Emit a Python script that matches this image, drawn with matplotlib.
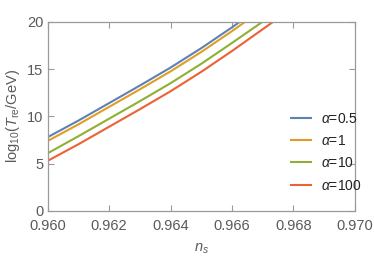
import matplotlib
matplotlib.use("Agg")
import matplotlib.pyplot as plt

ns = [0.960, 0.961, 0.962, 0.963, 0.964, 0.965, 0.966, 0.967, 0.968]
alpha_labels = ["0.5", "1", "10", "100"]
T_a05 = [7.8, 9.55, 11.4, 13.25, 15.15, 17.2, 19.4, 21.7, 24.0]
T_a1 = [7.4, 9.15, 11.0, 12.85, 14.75, 16.8, 19.0, 21.3, 23.6]
T_a10 = [6.1, 7.9, 9.75, 11.6, 13.5, 15.55, 17.75, 20.0, 22.3]
T_a100 = [5.3, 7.05, 8.9, 10.75, 12.65, 14.7, 16.9, 19.2, 21.5]
series = [T_a05, T_a1, T_a10, T_a100]
colors = ["#5E81B5", "#E19C24", "#8FB032", "#EB6235"]
xticks = [0.960, 0.962, 0.964, 0.966, 0.968, 0.970]
yticks = [0, 5, 10, 15, 20]

plt.rcParams['font.family'] = ['Liberation Sans', 'DejaVu Sans']
plt.rcParams['mathtext.fontset'] = 'custom'
plt.rcParams['mathtext.rm'] = 'Liberation Sans'
plt.rcParams['mathtext.it'] = 'Liberation Sans:italic'

fig = plt.figure(figsize=(3.74, 2.60), dpi=100)
ax = fig.add_axes([0.1275, 0.1885, 0.821, 0.728])
for vals, c, lab in zip(series, colors, alpha_labels):
    ax.plot(ns, vals, color=c, lw=1.5, label=r"$\alpha$=" + lab, solid_capstyle='butt')
ax.set_xlim(0.960, 0.970)
ax.set_ylim(0, 20)
ax.set_xticks(xticks)
ax.set_xticklabels([f"{t:.3f}" for t in xticks])
ax.set_yticks(yticks)
gray = "#9a9a9a"
tc = "#5a5a5a"
for s in ax.spines.values():
    s.set_color(gray)
    s.set_linewidth(0.9)
ax.tick_params(direction='in', length=4, width=0.8, color=gray, labelcolor=tc,
               labelsize=10.5, top=True, right=True)
ax.tick_params(axis='x', pad=6)
ax.tick_params(axis='y', pad=3)
ax.set_xlabel(r"$n_s$", color=tc, fontsize=10.5, labelpad=6)
ax.set_ylabel(r"log$_{10}$($T_{\rm re}$/GeV)", color=tc, fontsize=10.5, labelpad=4)
leg = ax.legend(loc='upper left', bbox_to_anchor=(0.79, 0.525), frameon=False,
                fontsize=10, handlelength=1.6, handletextpad=0.6, labelspacing=0.6,
                borderaxespad=0, borderpad=0)
for t in leg.get_texts():
    t.set_color("#222222")
fig.savefig("out.png", dpi=100)
